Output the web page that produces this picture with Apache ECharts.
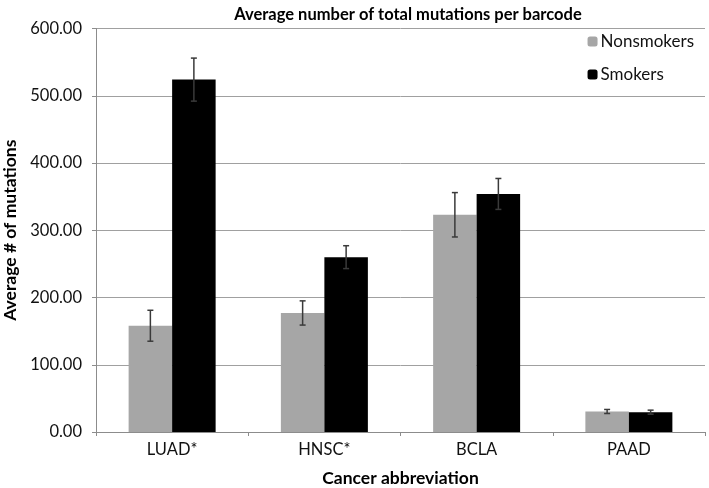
<!DOCTYPE html>
<html>
<head>
<meta charset="utf-8">
<script src="https://cdn.jsdelivr.net/npm/echarts@6/dist/echarts.min.js"></script>
<style>html,body{margin:0;padding:0;background:#fff}#c{width:709px;height:488px}</style>
</head>
<body>
<div id="c"></div>
<script>
const categories = ['LUAD*', 'HNSC*', 'BCLA', 'PAAD'];
const nonsmokers = [158, 177, 323, 30.5];
const smokers = [524, 260, 354, 29.5];
const nonsmokersErr = [23, 18, 33, 3];
const smokersErr = [32, 17, 23, 3];
const yTicks = [0, 100, 200, 300, 400, 500, 600];

const FONT = 'Lato';
const GAP = 1.5 / 3.5;

function errData(vals, errs) {
  return vals.map((v, i) => [i, v - errs[i], v + errs[i]]);
}
function errRenderer(side) {
  return function (params, api) {
    const band = api.size([1, 0])[0];
    const bw = band * (1 - GAP) / 2;
    const lo = api.coord([api.value(0), api.value(1)]);
    const hi = api.coord([api.value(0), api.value(2)]);
    const x = lo[0] + side * bw / 2;
    const cap = 3;
    const style = { stroke: '#3a3a3a', lineWidth: 1.5 };
    return {
      type: 'group',
      children: [
        { type: 'line', shape: { x1: x, y1: hi[1], x2: x, y2: lo[1] }, style },
        { type: 'line', shape: { x1: x - cap, y1: hi[1], x2: x + cap, y2: hi[1] }, style },
        { type: 'line', shape: { x1: x - cap, y1: lo[1], x2: x + cap, y2: lo[1] }, style }
      ]
    };
  };
}

const chart = echarts.init(document.getElementById('c'), null, { renderer: 'canvas' });
chart.setOption({
  animation: false,
  textStyle: { fontFamily: FONT },
  title: {
    text: 'Average number of total mutations per barcode',
    left: 403, top: 1, textAlign: 'center',
    textStyle: { fontFamily: FONT, fontSize: 16.5, fontWeight: 'bold', color: '#000' }
  },
  legend: {
    orient: 'vertical', right: 10, top: 28,
    itemWidth: 10, itemHeight: 10, itemGap: 16,
    textStyle: { fontFamily: FONT, fontSize: 17, color: '#111', padding: [0, 0, 0, -2] },
    data: ['Nonsmokers', 'Smokers']
  },
  grid: { left: 96, right: 4, top: 28.5, bottom: 56, containLabel: false, outerBoundsMode: 'none' },
  xAxis: {
    type: 'category', data: categories,
    name: 'Cancer abbreviation', nameLocation: 'middle', nameGap: 37,
    nameTextStyle: { fontFamily: FONT, fontSize: 17.5, fontWeight: 'bold', color: '#000' },
    axisLine: { lineStyle: { color: '#8c8c8c', width: 1 } },
    axisTick: { show: true, length: 4, lineStyle: { color: '#8c8c8c' } },
    axisLabel: { fontFamily: FONT, fontSize: 16.5, color: '#111', margin: 9 }
  },
  yAxis: {
    type: 'value', min: 0, max: 600, interval: 100,
    name: 'Average # of mutations', nameLocation: 'middle', nameGap: 74, nameRotate: 90,
    nameTextStyle: { fontFamily: FONT, fontSize: 17.5, fontWeight: 'bold', color: '#000' },
    axisLine: { show: true, lineStyle: { color: '#8c8c8c', width: 1 } },
    axisTick: { show: true, length: 4, lineStyle: { color: '#8c8c8c' } },
    splitLine: { lineStyle: { color: '#a0a0a0', width: 1 } },
    axisLabel: { fontFamily: FONT, fontSize: 16.5, color: '#111', margin: 14,
      formatter: v => yTicks.includes(v) ? v.toFixed(2) : '' }
  },
  series: [
    { name: 'Nonsmokers', type: 'bar', data: nonsmokers, itemStyle: { color: '#a6a6a6' },
      barGap: '0%', barCategoryGap: (GAP * 100) + '%' },
    { name: 'Smokers', type: 'bar', data: smokers, itemStyle: { color: '#000' } },
    { type: 'custom', renderItem: errRenderer(-1), data: errData(nonsmokers, nonsmokersErr),
      encode: { x: 0, y: [1, 2] }, z: 10, silent: true },
    { type: 'custom', renderItem: errRenderer(1), data: errData(smokers, smokersErr),
      encode: { x: 0, y: [1, 2] }, z: 10, silent: true }
  ]
});
</script>
</body>
</html>
